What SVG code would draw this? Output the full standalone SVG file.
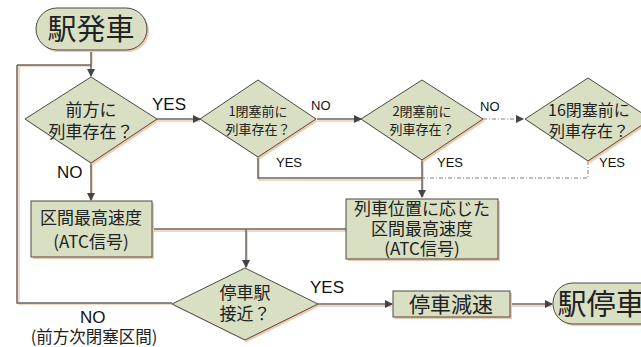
<svg xmlns="http://www.w3.org/2000/svg" width="641" height="347" viewBox="0 0 641 347">
<defs>
<style>
.n{fill:#d8dfc3;stroke:#4a4a4a;stroke-width:1}
.sh{fill:#f6c9a6;stroke:none}
.t{font-family:"Noto Sans CJK JP","Liberation Sans",sans-serif;fill:#222;text-anchor:middle}
.l{font-family:"Liberation Sans","Noto Sans CJK JP",sans-serif;fill:#111}
.c{fill:none;stroke:#666;stroke-width:1.5}
.cs{fill:none;stroke:#f3c9ab;stroke-width:1.5}
.d{fill:none;stroke:#aaa;stroke-width:1.5;stroke-dasharray:4 2 1 2}
</style>
<marker id="a" markerWidth="8" markerHeight="8" refX="7" refY="4" orient="auto" markerUnits="userSpaceOnUse">
<path d="M0,0 L8,4 L0,8 z" fill="#444"/>
</marker>
</defs>
<g id="connectors">
<path class="cs" d="M92,51 V66 M18,66 H92 M19,66 V304 H172 M158,121 H200 M318,121 H360 M259,158 V180 H423 M92,164 V200 M153,231 H346 M247,231 V267 M319,306 H392 M511,306 H552 M423,161 V197"/>
<path class="c" d="M91,50 V76" marker-end="url(#a)"/>
<path class="c" d="M17,65 H91"/>
<path class="c" d="M17,65 V303 H172"/>
<path class="c" d="M157,119 H200" marker-end="url(#a)"/>
<path class="c" d="M317,119 H361" marker-end="url(#a)"/>
<path class="d" d="M483,119 H523" marker-end="url(#a)"/>
<path class="c" d="M258,157 V178 H422"/>
<path class="d" d="M588,161 V178 H422"/>
<path class="c" d="M422,160 V197" marker-end="url(#a)"/>
<path class="c" d="M91,163 V200" marker-end="url(#a)"/>
<path class="c" d="M152,229 H346"/>
<path class="c" d="M246,229 V267" marker-end="url(#a)"/>
<path class="c" d="M318,304 H392" marker-end="url(#a)"/>
<path class="c" d="M510,304 H552" marker-end="url(#a)"/>
</g>
<g id="start">
<rect class="sh" x="38" y="10" width="111" height="42" rx="21"/>
<rect class="n" x="36" y="8" width="111" height="42" rx="21"/>
<text class="t" x="91" y="40" font-size="29">駅発車</text>
</g>
<g id="d1">
<polygon class="sh" points="93,79 159,121 93,165 27,121"/>
<polygon class="n" points="91,77 157,119 91,163 25,119"/>
<text class="t" x="91" y="116" font-size="17">前方に</text>
<text class="t" x="91" y="138" font-size="17">列車存在？</text>
</g>
<g id="d2">
<polygon class="sh" points="260,82 318,121 260,159 202,121"/>
<polygon class="n" points="258,80 316,119 258,157 200,119"/>
<text class="t" x="258" y="116" font-size="13">1閉塞前に</text>
<text class="t" x="258" y="134" font-size="13">列車存在？</text>
</g>
<g id="d3">
<polygon class="sh" points="424,82 485,121 424,162 363,121"/>
<polygon class="n" points="422,80 483,119 422,160 361,119"/>
<text class="t" x="422" y="116" font-size="13">2閉塞前に</text>
<text class="t" x="422" y="134" font-size="13">列車存在？</text>
</g>
<g id="d4">
<polygon class="sh" points="590,80 653,121 590,163 527,121"/>
<polygon class="n" points="588,78 651,119 588,161 525,119"/>
<text class="t" x="589" y="116" font-size="16">16閉塞前に</text>
<text class="t" x="589" y="137" font-size="16">列車存在？</text>
</g>
<g id="b1">
<rect class="sh" x="33" y="203" width="121" height="56"/>
<rect class="n" x="31" y="201" width="121" height="56"/>
<text class="t" x="91" y="224" font-size="17">区間最高速度</text>
<text class="t" x="91" y="248" font-size="17">(ATC信号)</text>
</g>
<g id="b2">
<rect class="sh" x="348" y="201" width="152" height="60"/>
<rect class="n" x="346" y="199" width="152" height="60"/>
<text class="t" x="422" y="215" font-size="17">列車位置に応じた</text>
<text class="t" x="422" y="235" font-size="17">区間最高速度</text>
<text class="t" x="422" y="255" font-size="17">(ATC信号)</text>
</g>
<g id="d5">
<polygon class="sh" points="247,270 320,306 247,342 174,306"/>
<polygon class="n" points="245,268 318,304 245,340 172,304"/>
<text class="t" x="245" y="299" font-size="17">停車駅</text>
<text class="t" x="245" y="320" font-size="17">接近？</text>
</g>
<g id="b3">
<rect class="sh" x="395" y="293" width="117" height="26"/>
<rect class="n" x="393" y="291" width="117" height="26"/>
<text class="t" x="451" y="312" font-size="21">停車減速</text>
</g>
<g id="end">
<rect class="sh" x="555" y="285" width="110" height="41" rx="20"/>
<rect class="n" x="553" y="283" width="110" height="41" rx="20"/>
<text class="t" x="601" y="315" font-size="29">駅停車</text>
</g>
<g id="labels">
<text class="l" x="152" y="110" font-size="17">YES</text>
<text class="l" x="57" y="178" font-size="17">NO</text>
<text class="l" x="311" y="110" font-size="13">NO</text>
<text class="l" x="480" y="111" font-size="13">NO</text>
<text class="l" x="276" y="167" font-size="13">YES</text>
<text class="l" x="437" y="167" font-size="13">YES</text>
<text class="l" x="599" y="167" font-size="13">YES</text>
<text class="l" x="310" y="293" font-size="17">YES</text>
<text class="l" x="80" y="323" font-size="17">NO</text>
<text class="t" x="94" y="343" font-size="16.5">(前方次閉塞区間)</text>
</g>
</svg>
